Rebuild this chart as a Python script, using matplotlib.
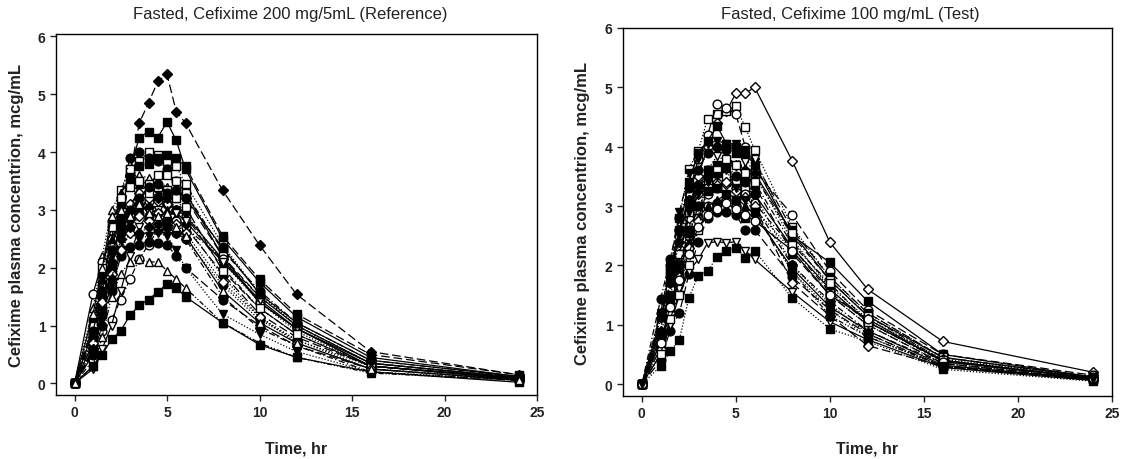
import matplotlib
matplotlib.use("Agg")
import matplotlib.pyplot as plt

plt.rcParams['font.family'] = ['Liberation Sans', 'DejaVu Sans']

times = [0, 1, 1.5, 2, 2.5, 3, 3.5, 4, 4.5, 5, 5.5, 6, 8, 10, 12, 16, 24]

ref_title = "Fasted, Cefixime 200 mg/5mL (Reference)"
test_title = "Fasted, Cefixime 100 mg/mL (Test)"
x_label = "Time, hr"
y_label = "Cefixime plasma concentrion, mcg/mL"
x_ticks = [0, 5, 10, 15, 20, 25]
y_ticks = [0, 1, 2, 3, 4, 5, 6]

# Reference panel subjects
ref_01 = [0, 0.55, 1.2, 2.0, 2.9, 3.6, 4.5, 4.85, 5.22, 5.34, 4.70, 4.50, 3.34, 2.39, 1.54, 0.55, 0.15]
ref_02 = [0, 0.7, 1.5, 2.3, 3.1, 3.7, 4.25, 4.35, 4.25, 4.52, 4.2, 3.7, 2.5, 1.75, 1.15, 0.45, 0.12]
ref_03 = [0, 0.9, 1.7, 2.7, 3.35, 3.7, 3.85, 4.0, 3.95, 3.85, 3.75, 3.45, 2.4, 1.55, 1.0, 0.35, 0.1]
ref_04 = [0, 0.8, 1.6, 2.5, 3.2, 3.9, 4.0, 3.9, 3.85, 3.7, 3.5, 3.3, 2.3, 1.6, 1.05, 0.4, 0.12]
ref_05 = [0, 1.3, 2.2, 3.0, 3.3, 3.5, 3.6, 3.55, 3.5, 3.4, 3.2, 2.95, 2.1, 1.4, 0.9, 0.3, 0.08]
ref_06 = [0, 0.6, 1.3, 2.0, 2.8, 3.5, 3.75, 3.8, 3.9, 3.95, 3.9, 3.75, 2.55, 1.8, 1.2, 0.5, 0.15]
ref_07 = [0, 1.55, 2.1, 2.5, 2.8, 2.9, 3.05, 3.15, 3.2, 3.1, 3.0, 2.9, 2.15, 1.4, 0.95, 0.35, 0.1]
ref_08 = [0, 0.7, 1.4, 2.2, 2.6, 2.8, 3.0, 3.2, 3.3, 3.25, 3.0, 2.9, 2.0, 1.3, 0.85, 0.3, 0.08]
ref_09 = [0, 1.0, 1.8, 2.4, 2.8, 3.1, 3.3, 3.2, 3.15, 3.1, 3.3, 3.2, 2.2, 1.5, 1.0, 0.35, 0.1]
ref_10 = [0, 1.1, 1.9, 2.8, 2.8, 2.85, 2.95, 2.9, 2.95, 2.7, 2.6, 2.5, 1.7, 1.1, 0.75, 0.25, 0.06]
ref_11 = [0, 0.5, 1.2, 1.7, 2.3, 2.9, 3.5, 3.45, 3.6, 3.6, 3.5, 3.3, 2.2, 1.4, 0.95, 0.3, 0.08]
ref_12 = [0, 0.9, 1.8, 2.5, 3.3, 3.5, 3.45, 3.35, 3.3, 3.0, 2.9, 2.7, 1.9, 1.2, 0.8, 0.3, 0.08]
ref_13 = [0, 0.4, 0.9, 1.1, 1.45, 1.8, 2.15, 2.4, 2.65, 2.85, 2.8, 2.7, 2.15, 1.5, 1.0, 0.35, 0.1]
ref_14 = [0, 0.8, 1.5, 2.1, 2.7, 2.85, 3.1, 3.05, 3.2, 3.2, 3.0, 2.75, 1.85, 1.15, 0.75, 0.3, 0.09]
ref_15 = [0, 0.25, 0.6, 1.0, 1.6, 2.2, 2.7, 2.95, 3.0, 2.9, 2.95, 2.8, 2.1, 1.45, 0.95, 0.3, 0.1]
ref_16 = [0, 0.5, 1.0, 1.6, 2.2, 2.35, 2.4, 2.45, 2.42, 2.4, 2.2, 2.0, 1.45, 1.0, 0.65, 0.25, 0.07]
ref_17 = [0, 0.3, 0.8, 1.5, 1.9, 2.1, 2.15, 2.1, 2.1, 1.95, 1.8, 1.65, 1.05, 0.7, 0.45, 0.18, 0.05]
ref_18 = [0, 0.3, 0.5, 0.76, 0.91, 1.18, 1.35, 1.45, 1.58, 1.72, 1.65, 1.50, 1.05, 0.67, 0.45, 0.2, 0.02]
ref_19 = [0, 0.6, 1.1, 1.7, 2.3, 2.6, 2.5, 2.55, 2.6, 2.55, 2.3, 2.0, 1.2, 0.85, 0.55, 0.2, 0.06]
ref_20 = [0, 1.0, 2.0, 2.7, 3.2, 3.4, 3.5, 3.3, 3.4, 3.35, 3.2, 3.05, 1.95, 1.3, 0.85, 0.3, 0.08]
ref_21 = [0, 0.9, 1.6, 2.3, 2.6, 3.0, 3.2, 3.4, 3.45, 3.3, 3.35, 3.2, 2.35, 1.55, 1.05, 0.4, 0.12]
ref_22 = [0, 0.7, 1.4, 1.9, 2.3, 2.6, 2.9, 2.8, 2.95, 2.85, 2.75, 2.6, 1.75, 1.15, 0.7, 0.25, 0.06]
ref_23 = [0, 0.6, 1.2, 1.8, 2.5, 2.7, 2.6, 2.7, 2.75, 2.8, 2.6, 2.5, 1.5, 0.95, 0.65, 0.2, 0.05]
ref_24 = [0, 1.2, 2.0, 2.9, 3.0, 2.9, 3.1, 2.95, 2.9, 2.95, 2.7, 2.55, 1.6, 1.05, 0.7, 0.25, 0.06]

# Test panel subjects
test_01 = [0, 0.9, 1.6, 2.3, 2.9, 3.5, 4.0, 4.4, 4.6, 4.9, 4.9, 5.0, 3.76, 2.39, 1.6, 0.72, 0.2]
test_02 = [0, 1.0, 1.9, 2.8, 3.63, 3.93, 4.47, 4.55, 4.6, 4.68, 4.33, 3.95, 2.65, 1.8, 1.2, 0.45, 0.12]
test_03 = [0, 0.8, 1.7, 2.5, 3.2, 3.8, 4.2, 4.72, 4.65, 4.55, 4.0, 3.6, 2.85, 1.9, 1.25, 0.5, 0.15]
test_04 = [0, 1.0, 1.9, 2.6, 3.4, 3.9, 4.1, 4.35, 4.05, 4.0, 3.9, 3.7, 2.5, 2.05, 1.4, 0.5, 0.12]
test_05 = [0, 1.43, 2.1, 2.8, 3.3, 3.6, 3.9, 4.0, 3.95, 4.0, 3.85, 3.5, 2.5, 1.75, 1.15, 0.4, 0.1]
test_06 = [0, 1.2, 2.0, 2.9, 3.55, 3.8, 4.05, 4.1, 4.05, 4.05, 3.95, 3.75, 2.6, 1.8, 1.2, 0.45, 0.12]
test_07 = [0, 0.5, 1.0, 1.6, 2.2, 2.8, 3.6, 3.85, 3.75, 3.9, 3.75, 3.8, 2.45, 1.6, 1.05, 0.4, 0.1]
test_08 = [0, 0.7, 1.4, 1.9, 2.6, 3.3, 3.6, 3.7, 3.6, 3.9, 3.5, 3.35, 2.2, 1.5, 1.0, 0.35, 0.08]
test_09 = [0, 0.9, 1.5, 2.2, 2.8, 3.2, 3.35, 3.4, 3.38, 3.3, 3.2, 3.0, 2.0, 1.4, 0.9, 0.35, 0.08]
test_10 = [0, 1.1, 1.8, 2.6, 3.1, 3.3, 3.5, 3.6, 3.55, 3.45, 3.3, 3.2, 2.3, 1.6, 1.05, 0.4, 0.1]
test_11 = [0, 0.6, 1.2, 2.0, 2.4, 2.8, 3.0, 3.05, 3.1, 3.0, 3.2, 2.95, 2.25, 1.5, 1.0, 0.35, 0.09]
test_12 = [0, 0.8, 1.5, 2.2, 2.9, 3.3, 3.4, 3.55, 3.5, 3.4, 3.3, 3.55, 2.55, 1.75, 1.15, 0.45, 0.12]
test_13 = [0, 0.4, 0.9, 1.2, 1.85, 2.4, 2.8, 2.9, 2.9, 2.85, 2.6, 2.6, 1.8, 1.25, 0.85, 0.3, 0.07]
test_14 = [0, 0.5, 1.0, 1.5, 1.9, 2.1, 2.38, 2.4, 2.38, 2.4, 2.25, 2.1, 1.55, 1.05, 0.75, 0.28, 0.06]
test_15 = [0, 0.3, 0.55, 0.75, 1.45, 1.83, 1.9, 2.15, 2.25, 2.3, 2.13, 2.25, 1.45, 0.93, 0.72, 0.25, 0.05]
test_16 = [0, 1.0, 1.6, 2.0, 2.5, 3.0, 3.2, 3.3, 3.1, 3.0, 3.2, 3.05, 2.3, 1.55, 1.05, 0.38, 0.1]
test_17 = [0, 0.9, 1.7, 2.4, 3.1, 3.35, 3.5, 3.6, 3.75, 3.7, 3.6, 3.55, 2.4, 1.65, 1.1, 0.42, 0.11]
test_18 = [0, 0.7, 1.3, 1.9, 2.4, 2.8, 3.0, 3.1, 3.2, 3.15, 3.0, 2.85, 1.95, 1.3, 0.9, 0.32, 0.08]
test_19 = [0, 0.6, 1.2, 1.8, 2.3, 2.75, 3.3, 3.35, 3.4, 3.25, 3.15, 3.0, 1.7, 1.15, 0.65, 0.3, 0.07]
test_20 = [0, 1.2, 2.0, 2.6, 3.0, 3.35, 3.6, 3.55, 3.7, 3.5, 3.4, 3.2, 2.0, 1.35, 0.85, 0.3, 0.07]
test_21 = [0, 0.5, 1.1, 1.5, 2.0, 2.6, 3.3, 3.6, 3.8, 3.7, 3.55, 3.4, 2.35, 1.7, 1.05, 0.4, 0.1]
test_22 = [0, 0.8, 1.5, 2.0, 2.55, 3.0, 3.25, 3.3, 3.2, 3.1, 2.8, 2.9, 1.9, 1.15, 0.8, 0.3, 0.08]
test_23 = [0, 0.7, 1.3, 1.75, 2.2, 2.65, 2.85, 2.95, 3.05, 2.95, 2.85, 2.75, 2.25, 1.5, 1.1, 0.38, 0.1]
test_24 = [0, 1.1, 1.7, 2.5, 2.9, 3.2, 3.4, 3.5, 3.6, 3.3, 3.1, 2.9, 1.9, 1.25, 0.8, 0.3, 0.08]

ref_subjects = [ref_01, ref_02, ref_03, ref_04, ref_05, ref_06, ref_07, ref_08,
                ref_09, ref_10, ref_11, ref_12, ref_13, ref_14, ref_15, ref_16,
                ref_17, ref_18, ref_19, ref_20, ref_21, ref_22, ref_23, ref_24]
test_subjects = [test_01, test_02, test_03, test_04, test_05, test_06, test_07, test_08,
                 test_09, test_10, test_11, test_12, test_13, test_14, test_15, test_16,
                 test_17, test_18, test_19, test_20, test_21, test_22, test_23, test_24]

# styles: (marker, filled, linestyle)
DASH = (0, (7, 3))
DOT = (0, (1, 1.5))
DASHDOT = (0, (5, 2, 1, 2))
DDOT = (0, (4, 1.5, 1, 1.5, 1, 1.5))
ref_styles = [
    ('D', True, DASH), ('s', True, '-'), ('s', False, DOT), ('o', True, DASHDOT),
    ('^', False, DOT), ('s', True, DASH), ('o', False, '-'), ('v', True, DASHDOT),
    ('D', False, DASH), ('o', True, DOT), ('s', False, '-'), ('^', True, DASH),
    ('o', False, DASHDOT), ('D', True, DOT), ('v', False, '-'), ('o', True, DASH),
    ('^', False, DDOT), ('s', True, '-'), ('v', True, DOT), ('s', False, DASH),
    ('o', True, '-'), ('D', False, DOT), ('D', True, DASHDOT), ('^', False, '-'),
]
test_styles = [
    ('D', False, '-'), ('s', False, DOT), ('o', False, DASH), ('s', True, '-'),
    ('o', True, DASHDOT), ('v', True, DASH), ('v', False, DOT), ('s', True, DASH),
    ('D', False, DASHDOT), ('o', True, '-'), ('o', False, DOT), ('s', False, '-'),
    ('o', True, DASH), ('v', False, '-'), ('s', True, DOT), ('o', False, DASHDOT),
    ('D', True, DOT), ('^', True, '-'), ('D', False, DASH), ('o', True, DOT),
    ('s', False, DASHDOT), ('s', True, DDOT), ('o', False, '-'), ('v', True, DOT),
]

W, H = 1123, 460
fig = plt.figure(figsize=(W / 100, H / 100), dpi=100)
ax1 = fig.add_axes([56 / W, 1 - 396 / H, (537 - 56) / W, 361 / H])
ax2 = fig.add_axes([623 / W, 1 - 397 / H, (1112 - 623) / W, 368 / H])


def draw(ax, subjects, styles, ylim_top):
    for i, (conc, (mk, filled, ls)) in enumerate(zip(subjects, styles)):
        ax.plot(times, conc, color='black', linestyle=ls, linewidth=0.9,
                marker=mk, markersize=6.3 if mk != 'D' else 5.6,
                markerfacecolor='black' if filled else 'white',
                markeredgecolor='black', markeredgewidth=1.0, zorder=2 + i * 0.01)
    ax.set_xlim(-1, 25)
    ax.set_ylim(-0.2, ylim_top)
    ax.set_xticks(x_ticks)
    ax.set_yticks(y_ticks)
    ax.tick_params(direction='out', length=4, width=1.0, labelsize=10,
                   top=False, right=False, colors='#222222')
    for lab in ax.get_xticklabels() + ax.get_yticklabels():
        lab.set_fontweight('bold')
    for sp in ax.spines.values():
        sp.set_linewidth(1.0)
    ax.set_xlabel(x_label, fontsize=11.5, fontweight='bold', color='#222222')
    ax.set_ylabel(y_label, fontsize=12, fontweight='bold', color='#222222')


draw(ax1, ref_subjects, ref_styles, 6.04)
draw(ax2, test_subjects, test_styles, 6.0)
ax1.yaxis.set_label_coords(-0.066, 0.5)
ax2.yaxis.set_label_coords(-0.067, 0.5)
ax1.xaxis.set_label_coords(0.5, -0.125)
ax2.xaxis.set_label_coords(0.5, -0.12)

fig.text(290 / W, 1 - 15 / H, ref_title, ha='center', va='center', fontsize=12, color='#222222')
fig.text(850 / W, 1 - 15 / H, test_title, ha='center', va='center', fontsize=12, color='#222222')

fig.savefig('out.png', dpi=100)
